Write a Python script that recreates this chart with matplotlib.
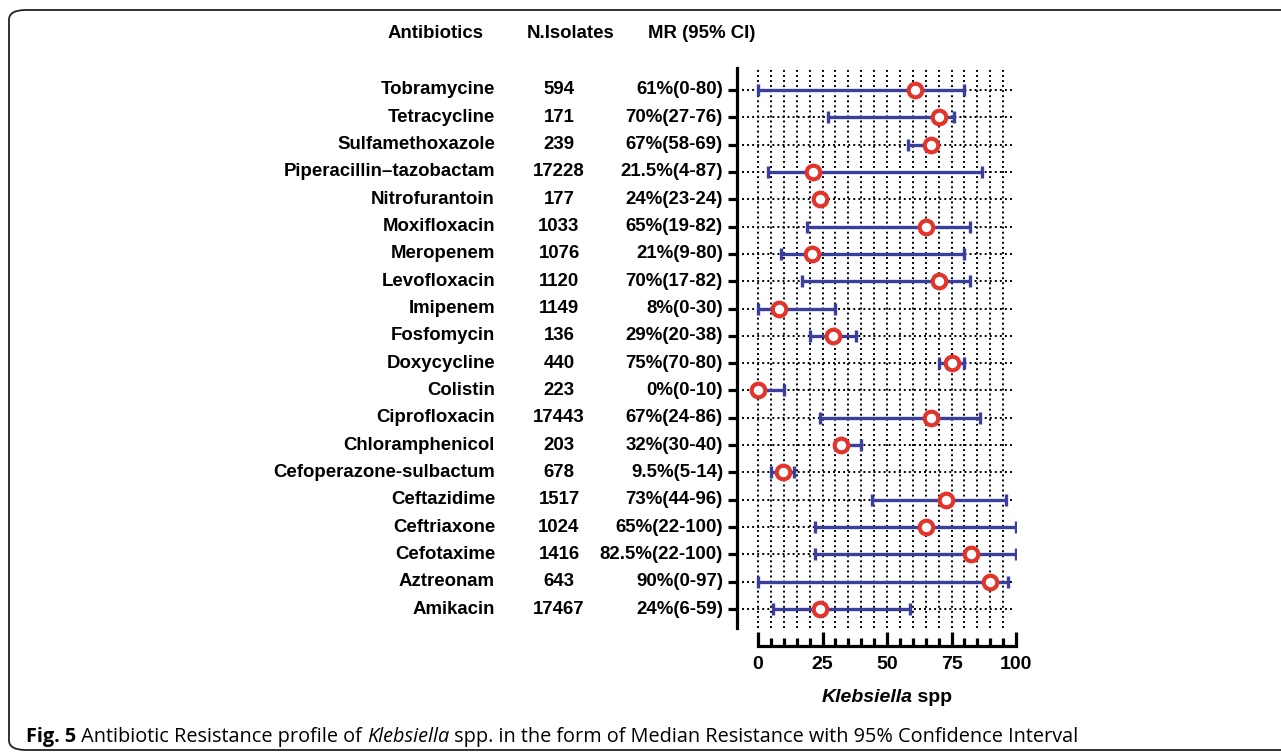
import numpy as np
import matplotlib.pyplot as plt
from matplotlib.patches import FancyBboxPatch
from matplotlib import transforms

plt.rcParams['font.family'] = ['Liberation Sans', 'DejaVu Sans']

antibiotics = ['Tobramycine', 'Tetracycline', 'Sulfamethoxazole', 'Piperacillin\u2013tazobactam',
               'Nitrofurantoin', 'Moxifloxacin', 'Meropenem', 'Levofloxacin', 'Imipenem',
               'Fosfomycin', 'Doxycycline', 'Colistin', 'Ciprofloxacin', 'Chloramphenicol',
               'Cefoperazone-sulbactum', 'Ceftazidime', 'Ceftriaxone', 'Cefotaxime',
               'Aztreonam', 'Amikacin']
n_isolates = [594, 171, 239, 17228, 177, 1033, 1076, 1120, 1149, 136, 440, 223,
              17443, 203, 678, 1517, 1024, 1416, 643, 17467]
median = [61, 70, 67, 21.5, 24, 65, 21, 70, 8, 29, 75, 0, 67, 32, 9.5, 73, 65, 82.5, 90, 24]
ci_low = [0, 27, 58, 4, 23, 19, 9, 17, 0, 20, 70, 0, 24, 30, 5, 44, 22, 22, 0, 6]
ci_high = [80, 76, 69, 87, 24, 82, 80, 82, 30, 38, 80, 10, 86, 40, 14, 96, 100, 100, 97, 59]
mr_labels = ['61%(0-80)', '70%(27-76)', '67%(58-69)', '21.5%(4-87)', '24%(23-24)',
             '65%(19-82)', '21%(9-80)', '70%(17-82)', '8%(0-30)', '29%(20-38)',
             '75%(70-80)', '0%(0-10)', '67%(24-86)', '32%(30-40)', '9.5%(5-14)',
             '73%(44-96)', '65%(22-100)', '82.5%(22-100)', '90%(0-97)', '24%(6-59)']

W, H = 1281, 753
fig = plt.figure(figsize=(W / 100, H / 100), dpi=100)

# rounded frame around the whole figure
frame = FancyBboxPatch((9 / W, 1 - 750 / H), 1400 / W, 740 / H,
                       boxstyle='round,pad=0,rounding_size=0.013',
                       transform=fig.transFigure, fill=False, lw=1.3, ec='#222222')
fig.patches.append(frame)

ax = fig.add_axes([737 / W, 1 - 628 / H, 279 / W, 560 / H])
xl = -21 / 2.58
ax.set_xlim(xl, 100)
ax.set_ylim(19.695, -0.805)
rows = np.arange(len(antibiotics))

blue = '#3a3f9e'
red = '#e2342b'

# dotted grid
ax.vlines(np.arange(0, 100, 5), 19.695, -0.805, colors='black', linestyles=(0, (1, 1.6)), lw=1.4, zorder=1)
ax.hlines(rows, xl, 98.8, colors='black', linestyles=(0, (1, 1.6)), lw=1.4, zorder=1)

med = np.array(median)
err = [med - np.array(ci_low), np.array(ci_high) - med]
ax.errorbar(median, rows, xerr=err, fmt='none', ecolor=blue, elinewidth=2.4,
            capsize=4.5, capthick=2.4, zorder=3)
ax.plot(median, rows, 'o', ms=9.8, mfc='white', mec=red, mew=3.0, zorder=4)

for s in ['top', 'right']:
    ax.spines[s].set_visible(False)
ax.spines['left'].set_linewidth(2.3)
ax.spines['bottom'].set_linewidth(2.3)
ax.spines['bottom'].set_position(('outward', 13))
ax.spines['bottom'].set_bounds(0, 100)

ax.set_yticks(rows)
ax.set_yticklabels([])
ax.tick_params(axis='y', direction='out', length=6.5, width=2.3)
ax.set_xticks([0, 25, 50, 75, 100])
ax.set_xticks(np.arange(0, 101, 5), minor=True)
ax.tick_params(axis='x', which='major', direction='in', length=10, width=2.3, pad=7, labelsize=14)
ax.tick_params(axis='x', which='minor', direction='in', length=5.5, width=2.3)
for lab in ax.get_xticklabels():
    lab.set_fontweight('bold')

# table columns
tr = transforms.blended_transform_factory(fig.transFigure, ax.transData)
fs = 13.4
for i in rows:
    ax.text(495 / W, i, antibiotics[i], transform=tr, ha='right', va='center', fontsize=fs, fontweight='bold')
    ax.text(559 / W, i, str(n_isolates[i]), transform=tr, ha='center', va='center', fontsize=fs, fontweight='bold')
    ax.text(723 / W, i, mr_labels[i], transform=tr, ha='right', va='center', fontsize=fs, fontweight='bold')

hy = 1 - 34 / H
fig.text(436 / W, hy, 'Antibiotics', ha='center', va='center', fontsize=fs, fontweight='bold')
fig.text(571 / W, hy, 'N.Isolates', ha='center', va='center', fontsize=fs, fontweight='bold')
fig.text(702 / W, hy, 'MR (95% CI)', ha='center', va='center', fontsize=fs, fontweight='bold')

# x label with italic genus
fig.canvas.draw()
r = fig.canvas.get_renderer()
ly = 1 - 697 / H
t1 = fig.text(0, ly, 'Klebsiella', fontsize=14, fontweight='bold', style='italic', va='center')
t2 = fig.text(0, ly, ' spp', fontsize=14, fontweight='bold', va='center')
w1 = t1.get_window_extent(r).width
w2 = t2.get_window_extent(r).width
x0 = 887 - (w1 + w2) / 2
t1.set_x(x0 / W)
t2.set_x((x0 + w1) / W)

# caption
cap_font = ['Open Sans', 'DejaVu Sans']
cy = 1 - 737 / H
parts = [('Fig. 5', 'bold', 'normal'), (' Antibiotic Resistance profile of ', 'normal', 'normal'),
         ('Klebsiella', 'normal', 'italic'),
         (' spp. in the form of Median Resistance with 95% Confidence Interval', 'normal', 'normal')]
cx = 26
for txt, wt, st in parts:
    t = fig.text(cx / W, cy, txt, fontsize=14.3, fontweight=wt, style=st, va='center', family=cap_font)
    cx += t.get_window_extent(r).width

fig.savefig('out.png', dpi=100)
